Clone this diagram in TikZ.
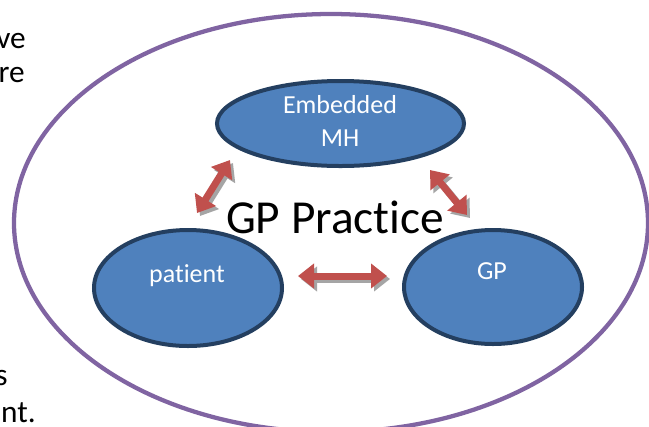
\documentclass[tikz,border=0pt]{standalone}
\usepackage{fontspec}
\setmainfont{Carlito}[Ligatures=NoCommon]
\usetikzlibrary{shapes.geometric,arrows.meta}
\definecolor{mhblue}{HTML}{4F81BD}
\definecolor{mhnavy}{HTML}{243F60}
\definecolor{arrred}{HTML}{C0504D}
\definecolor{ppurple}{HTML}{8064A2}
\definecolor{shadowgray}{HTML}{A5A5A5}
\tikzset{
  bubble/.style={ellipse, draw=mhnavy, fill=mhblue, line width=3pt, inner sep=0pt},
  bubbletext/.style={text=white, font=\fontsize{19.5}{23}\selectfont, anchor=base, inner sep=0pt},
  sidetext/.style={font=\fontsize{23.5}{28}\selectfont, anchor=base east, inner sep=0pt},
  dblarrow/.style={line width=5.25pt, arrred, {Triangle[width=18pt,length=12pt]}-{Triangle[width=18pt,length=12pt]}},
  dblshadow/.style={line width=5.25pt, shadowgray, {Triangle[width=18pt,length=12pt]}-{Triangle[width=18pt,length=12pt]}},
}
\begin{document}
\begin{tikzpicture}[x=0.75pt,y=-0.75pt]
\useasboundingbox (0,0) rectangle (649,426);
\clip (0,0) rectangle (649,426);
\fill[white] (0,0) rectangle (649,426);
% partial side text
\node[sidetext] (t1) at (26,48) {ve};
\node[sidetext] (t2) at (25,82) {re};
\node[sidetext] (t3) at (8,385) {s};
\node[sidetext] (t4) at (36,422) {nt.};
% outer practice ellipse
\node[ellipse, draw=ppurple, line width=3.2pt, inner sep=0pt, minimum width=475.5pt, minimum height=313.5pt] (practice) at (331,223) {};
% bubbles
\node[bubble, minimum width=185.25pt, minimum height=63.75pt] (mh) at (340.5,123.5) {};
\node[bubble, minimum width=141pt, minimum height=87pt] (patient) at (188,288) {};
\node[bubble, minimum width=133.5pt, minimum height=85.5pt] (gp) at (493,287) {};
\node[bubbletext] (mhtext1) at (340,113) {Embedded};
\node[bubbletext] (mhtext2) at (340,146) {MH};
\node[bubbletext] (pattext) at (187,282) {patient};
\node[bubbletext] (gptext) at (492,279) {GP};
% title
\node[font=\fontsize{35.5}{40}\selectfont, anchor=base, inner sep=0pt] (title) at (335,233) {GP Practice};
% arrow end points
\coordinate (a1) at (197,213);
\coordinate (a2) at (230,160);
\coordinate (b1) at (298,276);
\coordinate (b2) at (387,276);
\coordinate (c1) at (430,170);
\coordinate (c2) at (467,215);
% shadows
\draw[dblshadow] ([shift={(3,3)}]a1) -- ([shift={(3,3)}]a2);
\draw[dblshadow] ([shift={(3,3)}]b1) -- ([shift={(3,3)}]b2);
\draw[dblshadow] ([shift={(3,3)}]c1) -- ([shift={(3,3)}]c2);
% arrows
\draw[dblarrow] (a1) -- (a2);
\draw[dblarrow] (b1) -- (b2);
\draw[dblarrow] (c1) -- (c2);
\end{tikzpicture}
\end{document}
